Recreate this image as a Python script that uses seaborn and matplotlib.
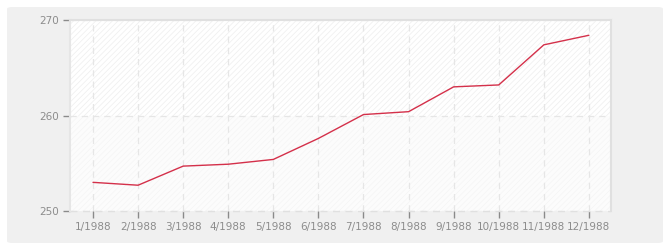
import matplotlib
matplotlib.use("Agg")
import matplotlib.pyplot as plt
from matplotlib.patches import FancyBboxPatch
import seaborn as sns
import pandas as pd

months = ["1/1988", "2/1988", "3/1988", "4/1988", "5/1988", "6/1988",
          "7/1988", "8/1988", "9/1988", "10/1988", "11/1988", "12/1988"]
values = [253.0, 252.7, 254.7, 254.9, 255.4, 257.6,
          260.1, 260.4, 263.0, 263.2, 267.4, 268.4]
y_ticks = [250, 260, 270]

sns.set_style("white")
plt.rcParams["font.family"] = ["DejaVu Sans"]
plt.rcParams["hatch.linewidth"] = 0.5

W, H = 670, 250
fig = plt.figure(figsize=(W / 100, H / 100), dpi=100, facecolor="white")

# rounded gray panel
panel = FancyBboxPatch((7 / W, 7 / H), (663 - 7) / W, (243 - 7) / H,
                       boxstyle="round,pad=0,rounding_size=0.008",
                       transform=fig.transFigure, facecolor="#f0f0f0",
                       edgecolor="none", zorder=-10)
fig.add_artist(panel)

ax = fig.add_axes([70 / W, (H - 211) / H, (611 - 70) / W, (211 - 20) / H])
ax.set_zorder(5)
ax.set_facecolor("white")

df = pd.DataFrame({"idx": range(len(months)), "value": values})

# hatched bands
ax.axhspan(260, 270, facecolor="white", hatch="//////", edgecolor="#eeeeee",
           lw=0, zorder=0.1)
ax.axhspan(250, 260, facecolor="#fcfcfc", hatch="//////", edgecolor="#f5f5f5",
           lw=0, zorder=0.1)

sns.lineplot(data=df, x="idx", y="value", ax=ax, color="#d4304a",
             linewidth=1.0, zorder=3)

ax.set_xlim(-0.51, 11.49)
ax.set_ylim(250, 270)
ax.set_xticks(range(len(months)))
ax.set_xticklabels(months)
ax.set_yticks(y_ticks)
ax.set_xlabel("")
ax.set_ylabel("")

ax.grid(True, color="#e6e6e6", linestyle=(0, (5, 4)), linewidth=0.9, zorder=0.5)
ax.set_axisbelow(True)

ax.tick_params(axis="both", bottom=True, left=True, colors="#8a8a8a",
               labelsize=7.5, width=1, pad=3)
ax.tick_params(axis="x", labelcolor="#8c8c8c", length=5)
ax.tick_params(axis="y", labelcolor="#8c8c8c", length=5)

for side in ["top", "right"]:
    ax.spines[side].set_color("#e0e0e0")
    ax.spines[side].set_linewidth(1.5)
ax.spines["left"].set_color("#e6e6e6")
ax.spines["left"].set_linewidth(1.5)
ax.spines["bottom"].set_visible(False)
ax.axhline(250, color="#e0e0e0", linestyle=(0, (5, 4)), linewidth=1.0,
           zorder=0.6, clip_on=False)

fig.savefig("out.png", dpi=100, facecolor="white")
